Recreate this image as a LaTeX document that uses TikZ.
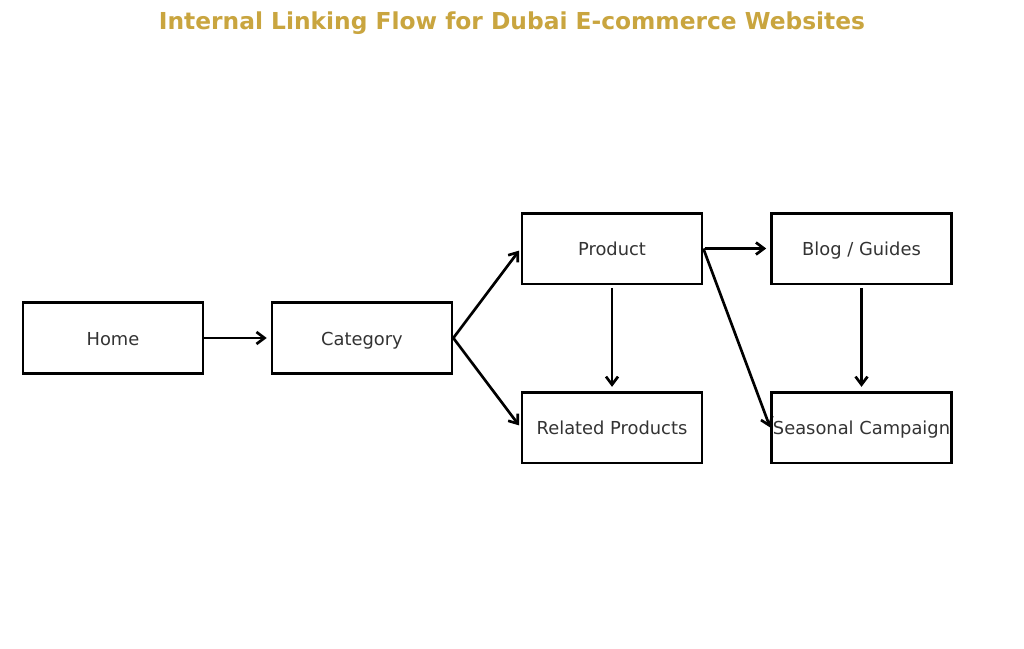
\documentclass[tikz,border=0pt]{standalone}
\usepackage{fontspec}
\setmainfont{DejaVu Sans}
\usetikzlibrary{arrows.meta}
\definecolor{titlegold}{HTML}{C9A53F}
\definecolor{boxtext}{HTML}{333333}
\tikzset{
      nodebox/.style={
          rectangle,
          draw=black,
          line width=2pt,
          minimum width=135pt,
          minimum height=53pt,
          inner sep=0pt,
          text height=12.5pt,
          text depth=2pt,
          text=boxtext,
          font=\fontsize{13.4pt}{16pt}\selectfont
      },
      linkarrow/.style={
          line width=2pt,
          -{Straight Barb[length=6pt,width=9pt,line width=2pt]}
      }
  }
\begin{document}
\begin{tikzpicture}[x=0.75pt,y=-0.75pt]
    \useasboundingbox[fill=white] (0,0) rectangle (1024,649);
    \node [text=titlegold, font=\bfseries\fontsize{17.5pt}{20pt}\selectfont] (title) at (512,23) {Internal Linking Flow for Dubai E-commerce Websites};
    
    \node [nodebox] (home) at (113,338) {Home};
    \node [nodebox] (category) at (362,338) {Category};
    \node [nodebox] (product) at (612,248.5) {Product};
    \node [nodebox] (blog) at (861.5,248.5) {Blog / Guides};
    \node [nodebox] (related) at (612,427.5) {Related Products};
    \node [nodebox] (seasonal) at (861.5,427.5) {Seasonal Campaign};
    
    \draw[linkarrow, shorten >=3pt] (home) -- (category);
    \draw[linkarrow, shorten >=2pt] (category.east) -- (product.west);
    \draw[linkarrow, shorten >=2pt] (category.east) -- (related.west);
    \draw[linkarrow, shorten <=1pt, shorten >=3pt] (product) -- (blog);
    \draw[linkarrow, shorten <=2pt, shorten >=3pt] (product) -- (related);
    \draw[linkarrow] (product.east) -- (seasonal.west);
    \draw[linkarrow, shorten <=2pt, shorten >=3pt] (blog) -- (seasonal);
    
    \end{tikzpicture}
\end{document}
